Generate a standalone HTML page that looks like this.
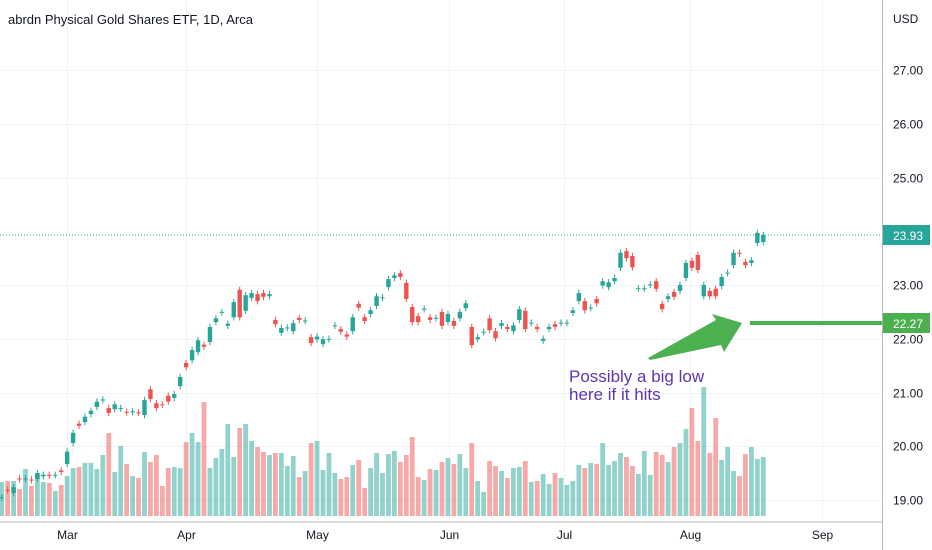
<!DOCTYPE html>
<html><head><meta charset="utf-8"><style>
html,body{margin:0;padding:0;background:#fff;}
svg{display:block;font-family:"Liberation Sans",sans-serif;}
</style></head><body>
<svg id="chart" width="932" height="550" viewBox="0 0 932 550" xmlns="http://www.w3.org/2000/svg">
<rect x="0" y="0" width="932" height="550" fill="#ffffff"/>
<g id="grid"></g>
<g id="vols"></g>
<line x1="0" y1="235" x2="882" y2="235" stroke="#26a69a" stroke-width="1" stroke-dasharray="1,2"/>
<g id="candles"></g>
<text x="8" y="24" font-size="13" fill="#131722">abrdn Physical Gold Shares ETF, 1D, Arca</text>
<line x1="750" y1="323" x2="882" y2="323" stroke="#4caf50" stroke-width="4"/>
<polygon points="648,358 716,320 712,314 742,323 724,352 721,345 650,360" fill="#4caf50"/>
<text x="569" y="382" font-size="17" fill="#5e35b1">Possibly a big low</text>
<text x="569" y="400" font-size="17" fill="#5e35b1">here if it hits</text>
<g id="axis"></g>
<line x1="0" y1="522" x2="882" y2="522" stroke="#b2b5be" stroke-width="1"/>
<line x1="882.5" y1="0" x2="882.5" y2="550" stroke="#b2b5be" stroke-width="1"/>
<text x="893" y="23" font-size="12" fill="#131722">USD</text>
<g id="taxis"></g>
<rect x="883" y="225" width="47" height="20" fill="#26a69a"/>
<text x="893" y="240" font-size="12" fill="#fff">23.93</text>
<rect x="883" y="313" width="47" height="20" fill="#4caf50"/>
<text x="893" y="328" font-size="12" fill="#fff">22.27</text>
</svg>
<script>
const opens=[19.04,19.19,19.13,19.40,19.39,19.38,19.39,19.44,19.47,19.46,19.55,19.67,20.06,20.42,20.45,20.60,20.73,20.86,20.71,20.69,20.70,20.64,20.64,20.63,20.58,21.06,20.80,20.78,20.94,20.90,21.12,21.55,21.60,21.75,21.89,21.94,22.31,22.49,22.24,22.40,22.91,22.52,22.76,22.83,22.85,22.79,22.35,22.11,22.20,22.14,22.39,22.33,22.03,21.99,21.90,21.99,22.24,22.18,22.08,22.14,22.65,22.40,22.46,22.61,22.76,22.96,23.13,23.22,23.04,22.59,22.42,22.55,22.40,22.38,22.50,22.31,22.33,22.38,22.57,22.22,21.99,22.12,22.38,22.14,22.24,22.22,22.14,22.35,22.52,22.29,22.22,21.96,22.18,22.27,22.29,22.29,22.48,22.70,22.70,22.57,22.74,22.99,22.96,23.07,23.32,23.63,23.54,22.93,22.93,23.00,23.07,22.65,22.74,22.87,22.89,23.13,23.45,23.56,22.79,22.89,22.93,22.98,23.22,23.37,23.60,23.43,23.41,23.78,23.80];
const closes=[19.05,19.18,19.24,19.38,19.40,19.37,19.50,19.47,19.45,19.47,19.52,19.90,20.25,20.38,20.55,20.66,20.83,20.87,20.62,20.78,20.71,20.63,20.65,20.62,20.86,20.88,20.71,20.77,20.83,20.97,21.29,21.47,21.79,21.97,21.85,22.22,22.38,22.50,22.28,22.68,22.40,22.81,22.85,22.70,22.78,22.83,22.27,22.20,22.21,22.29,22.35,22.34,21.92,22.04,21.99,22.00,22.25,22.13,22.04,22.40,22.58,22.33,22.53,22.79,22.77,23.11,23.18,23.15,22.74,22.31,22.31,22.56,22.35,22.39,22.24,22.46,22.24,22.50,22.66,21.88,22.03,22.13,22.16,22.01,22.29,22.18,22.25,22.55,22.18,22.30,22.18,22.00,22.22,22.22,22.30,22.30,22.53,22.85,22.53,22.58,22.66,23.07,23.05,23.13,23.60,23.50,23.33,22.94,22.94,23.01,22.93,22.55,22.79,22.78,23.00,23.41,23.32,23.28,23.00,22.79,22.79,23.15,23.23,23.60,23.58,23.37,23.46,23.97,23.93];
const volumes=[340,350,350,270,470,300,430,340,330,250,310,400,480,490,530,530,470,610,830,440,700,520,400,380,640,540,610,300,480,490,480,740,830,740,1140,480,580,670,920,590,880,920,750,690,640,610,630,630,500,600,390,450,730,750,460,630,430,370,390,510,560,280,480,630,430,620,650,540,610,790,390,360,470,460,540,580,520,620,480,730,350,240,550,500,450,380,480,490,550,340,350,420,320,430,380,310,350,510,480,530,520,730,510,550,630,590,500,420,650,410,640,610,540,690,730,870,1080,750,1290,630,980,560,690,450,400,620,690,570,590];
const priceTicks=[19,20,21,22,23,24,25,26,27];
const priceTickLabels=["19.00","20.00","21.00","22.00","23.00","24.00","25.00","26.00","27.00"];
const months=["Mar","Apr","May","Jun","Jul","Aug","Sep"];
const monthStartIndex=[11,31,53,75.2,94.5,115.7,137.9];

const NS="http://www.w3.org/2000/svg";
function yP(p){return 70+(27-p)*53.75;}
function xI(i){return 1.7+i*5.95;}
function yV(v){return 516-v/10;}
function mk(tag,attrs,parent){const e=document.createElementNS(NS,tag);for(const k in attrs)e.setAttribute(k,attrs[k]);parent.appendChild(e);return e;}
const grid=document.getElementById('grid'),vols=document.getElementById('vols'),cg=document.getElementById('candles'),axis=document.getElementById('axis'),taxis=document.getElementById('taxis');
priceTicks.forEach((p,k)=>{
  if(p===24)return;
  const y=Math.round(yP(p))+0.5;
  const l=mk('line',{x1:0,x2:882,y1:y,y2:y,stroke:'#f0f3fa','stroke-width':1},grid);
  
  
  const t=mk('text',{x:893,y:y+4,'font-size':12,fill:'#131722'},axis);
  t.textContent=priceTickLabels[k];
  
  
});
months.forEach((m,k)=>{
  const x=Math.round(xI(monthStartIndex[k]))+0.5;
  const l=mk('line',{x1:x,x2:x,y1:0,y2:522,stroke:'#f0f3fa','stroke-width':1},grid);
  
  
  const t=mk('text',{x:x,y:539,'font-size':12,fill:'#131722','text-anchor':'middle'},taxis);
  t.textContent=m;
  
  
});
opens.forEach((o,i)=>{
  const c=closes[i],up=c>=o,x=xI(i);
  const col=up?'#26a69a':'#ef5350';
  const vc=up?'rgba(38,166,154,0.5)':'rgba(239,83,80,0.5)';
  const vb=mk('rect',{x:x-2.4,y:yV(volumes[i]),width:4.8,height:516-yV(volumes[i]),fill:vc},vols);
  
  
  const hi=Math.max(o,c)+0.06,lo=Math.min(o,c)-0.06;
  const w=mk('line',{x1:x,x2:x,y1:yP(hi),y2:yP(lo),stroke:col,'stroke-width':1},cg);
  
  
  const top=yP(Math.max(o,c)),bot=yP(Math.min(o,c));
  const b=mk('rect',{x:x-2.2,y:top,width:4.4,height:Math.max(1,bot-top),fill:col},cg);
  
  
});
</script>
</body></html>
